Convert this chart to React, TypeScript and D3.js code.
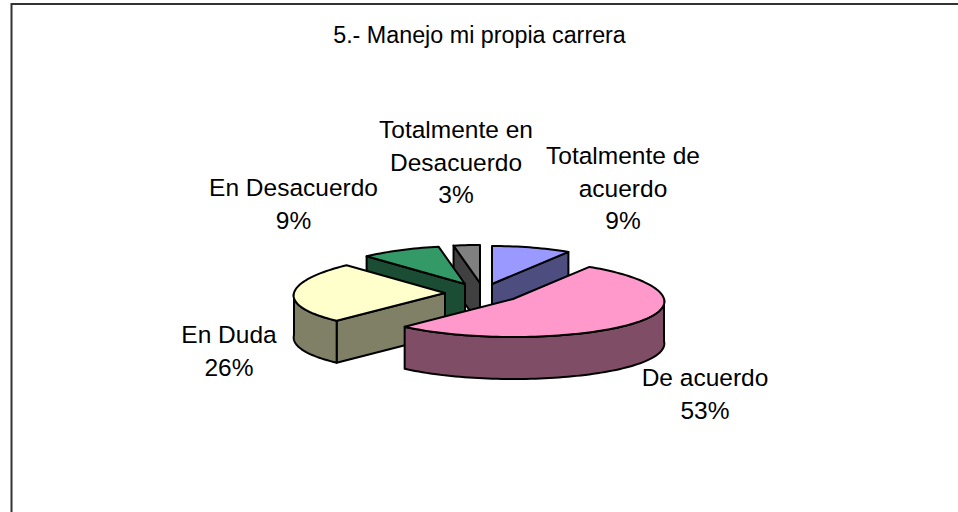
import React from "react";
import * as d3 from "d3";

const categories = ["Totalmente de acuerdo", "De acuerdo", "En Duda", "En Desacuerdo", "Totalmente en Desacuerdo"];
const values = [9, 53, 26, 9, 3];
const topColors = ["#9999FF", "#FF99CC", "#FFFFCC", "#339966", "#808080"];
const wallColors = ["#4D4D80", "#804D66", "#808066", "#1A4D33", "#404040"];
const centers: [number, number][] = [[492, 284], [513, 299], [445, 293], [465, 284], [480, 283]];
const labelLines = [
  ["Totalmente de", "acuerdo", "9%"],
  ["De acuerdo", "53%"],
  ["En Duda", "26%"],
  ["En Desacuerdo", "9%"],
  ["Totalmente en", "Desacuerdo", "3%"],
];
const labelPos: [number, number][] = [[623, 164], [705, 386], [229, 343], [293.5, 196], [456, 138]];
const title = "5.- Manejo mi propia carrera";

const R = 151, RY = 38, DEPTH = 42, PERSP = 0.066;
const FONT = "'Liberation Sans', Arial, sans-serif";

export default function App() {
  const arcs = d3.pie<number>().sort(null)(values);
  const project = (i: number, t: number, dz = 0): [number, number] => {
    const [cx, cy] = centers[i];
    const s = Math.sin(t), c = Math.cos(t);
    return [cx + R * s * (1 - PERSP * c), cy - RY * c + dz];
  };
  const arcPoints = (i: number, a0: number, a1: number, dz = 0) => {
    const n = Math.max(2, Math.ceil((a1 - a0) / 0.03));
    return d3.range(n + 1).map((k) => project(i, a0 + ((a1 - a0) * k) / n, dz));
  };
  const line = d3.line();
  const order = [0, 4, 3, 2, 1];
  return (
    <svg width={958} height={512} style={{ position: "absolute", left: 0, top: 0, background: "#fff" }}>
      <path d="M11.5,512V4H958" fill="none" stroke="#333" strokeWidth={2} />
      <text x={479.5} y={43} textAnchor="middle" fontFamily={FONT} fontSize={23.3} fill="#000">{title}</text>
      {order.map((i) => {
        const { startAngle: a0, endAngle: a1 } = arcs[i];
        const [cx, cy] = centers[i];
        const top = [[cx, cy] as [number, number], ...arcPoints(i, a0, a1)];
        const face = (t: number): [number, number][] => {
          const p = project(i, t);
          return [[cx, cy], p, [p[0], p[1] + DEPTH], [cx, cy + DEPTH]];
        };
        const w0 = Math.max(a0, Math.PI / 2);
        const w1 = Math.min(a1, (3 * Math.PI) / 2);
        const wall: [number, number][] | null = w1 > w0
          ? [...arcPoints(i, w0, w1), ...arcPoints(i, w0, w1, DEPTH).reverse()]
          : null;
        const common = { fill: wallColors[i], stroke: "#000", strokeWidth: 2, strokeLinejoin: "round" as const };
        return (
          <g key={categories[i]}>
            {Math.sin(a0) < -1e-6 && <path d={line(face(a0)) + "Z"} {...common} />}
            {Math.sin(a1) > 1e-6 && <path d={line(face(a1)) + "Z"} {...common} />}
            {wall && <path d={line(wall) + "Z"} {...common} />}
            <path d={line(top) + "Z"} fill={topColors[i]} stroke="#000" strokeWidth={2} strokeLinejoin="round" />
          </g>
        );
      })}
      {labelLines.map((lines, i) => (
        <text key={i} textAnchor="middle" fontFamily={FONT} fontSize={24.5} fill="#000">
          {lines.map((l, j) => (
            <tspan key={j} x={labelPos[i][0]} y={labelPos[i][1] + j * 32.5}>{l}</tspan>
          ))}
        </text>
      ))}
    </svg>
  );
}
